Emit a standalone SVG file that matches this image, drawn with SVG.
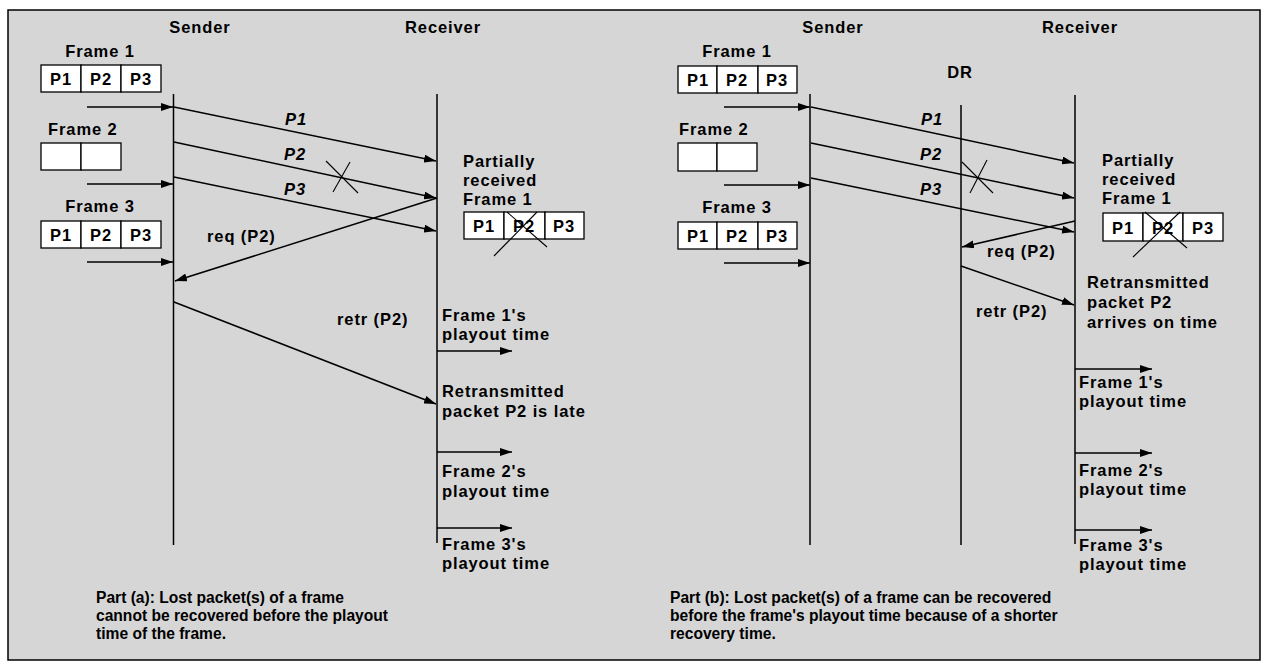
<svg xmlns="http://www.w3.org/2000/svg" width="1266" height="666" viewBox="0 0 1266 666">
<defs>
<marker id="ah" viewBox="0 0 12 8" refX="12" refY="4" markerWidth="12" markerHeight="8" markerUnits="userSpaceOnUse" orient="auto">
<path d="M0,0 L12,4 L0,8 Z" fill="#000"/>
</marker>
</defs>
<style>
text{font-family:"Liberation Sans",Arial,sans-serif;font-weight:bold;font-size:16.5px;letter-spacing:0.9px;fill:#000}
.cap{font-size:15.6px;letter-spacing:0}
.it{font-style:italic}
.c{text-anchor:middle}
.box{fill:#fff;stroke:#000;stroke-width:1.3}
.ln{stroke:#000;stroke-width:1.5;fill:none}
.ar{stroke:#000;stroke-width:1.5;fill:none;marker-end:url(#ah)}
.x{stroke:#000;stroke-width:1.1;fill:none}
</style>
<rect x="0" y="0" width="1266" height="666" fill="#fff"/>
<rect x="8" y="10" width="1252" height="650" fill="#d6d6d6" stroke="#000" stroke-width="1.5"/>

<!-- ===== Part (a) ===== -->
<g id="a-sender"><text x="200" y="33" class="c">Sender</text><line class="ln" x1="173.5" y1="94" x2="173.5" y2="545"/></g>
<g id="a-receiver"><text x="443" y="33" class="c">Receiver</text><line class="ln" x1="437" y1="94" x2="437" y2="543"/></g>
<g id="a-frame1"><text x="100" y="57" class="c">Frame 1</text>
<rect class="box" x="41" y="65" width="40" height="27"/><rect class="box" x="81" y="65" width="40" height="27"/><rect class="box" x="121" y="65" width="40" height="27"/>
<text x="61" y="85" class="c">P1</text><text x="101" y="85" class="c">P2</text><text x="141" y="85" class="c">P3</text></g>
<g id="a-frame2"><text x="48" y="135">Frame 2</text>
<rect class="box" x="41" y="143" width="40" height="27"/><rect class="box" x="81" y="143" width="40" height="27"/></g>
<g id="a-frame3"><text x="100" y="212" class="c">Frame 3</text>
<rect class="box" x="41" y="221" width="40" height="27"/><rect class="box" x="81" y="221" width="40" height="27"/><rect class="box" x="121" y="221" width="40" height="27"/>
<text x="61" y="241" class="c">P1</text><text x="101" y="241" class="c">P2</text><text x="141" y="241" class="c">P3</text></g>
<g id="a-partial"><text x="463" y="167">Partially</text><text x="463" y="186">received</text><text x="463" y="205">Frame 1</text>
<rect class="box" x="464" y="212" width="40" height="27"/><rect class="box" x="504" y="212" width="41" height="27"/><rect class="box" x="545" y="212" width="39" height="27"/>
<text x="484" y="232" class="c">P1</text><text x="524" y="232" class="c">P2</text><text x="564" y="232" class="c">P3</text>
<line class="x" x1="494" y1="256" x2="537" y2="212"/><line class="x" x1="507" y1="212" x2="547" y2="247"/></g>
<g id="a-labels">
<text x="285" y="125" class="it">P1</text><text x="284" y="160" class="it">P2</text><text x="284" y="195" class="it">P3</text>
<text x="207" y="242">req (P2)</text><text x="337" y="325">retr (P2)</text>
<text x="442" y="321">Frame 1's</text><text x="442" y="340">playout time</text>
<text x="442" y="397">Retransmitted</text><text x="442" y="417">packet P2 is late</text>
<text x="442" y="477">Frame 2's</text><text x="442" y="497">playout time</text>
<text x="442" y="550">Frame 3's</text><text x="442" y="569">playout time</text>
<text x="96" y="603" class="cap">Part (a): Lost packet(s) of a frame</text>
<text x="96" y="621" class="cap">cannot be recovered before the playout</text>
<text x="96" y="639" class="cap">time of the frame.</text></g>
<g id="a-connectors">
<line class="ar" x1="87" y1="107" x2="173" y2="107"/>
<line class="ar" x1="87" y1="184" x2="173" y2="184"/>
<line class="ar" x1="87" y1="262" x2="173" y2="262"/>
<line class="ar" x1="174" y1="107" x2="436" y2="161"/>
<line class="ar" x1="174" y1="142" x2="436" y2="198"/>
<line class="ar" x1="174" y1="177" x2="436" y2="231"/>
<line class="ar" x1="437" y1="198" x2="175" y2="281"/>
<line class="ar" x1="174" y1="302" x2="436" y2="404"/>
<line class="ar" x1="437" y1="351" x2="512" y2="351"/>
<line class="ar" x1="437" y1="452" x2="512" y2="452"/>
<line class="ar" x1="437" y1="528" x2="512" y2="528"/>
<line class="x" x1="333" y1="192" x2="350" y2="162"/><line class="x" x1="326" y1="161" x2="358" y2="193"/>
</g>

<!-- ===== Part (b) ===== -->
<g id="b-sender"><text x="833" y="33" class="c">Sender</text><line class="ln" x1="810" y1="94" x2="810" y2="545"/></g>
<g id="b-dr"><text x="960" y="78" class="c">DR</text><line class="ln" x1="961" y1="105" x2="961" y2="545"/></g>
<g id="b-receiver"><text x="1080" y="33" class="c">Receiver</text><line class="ln" x1="1075" y1="95" x2="1075" y2="544"/></g>
<g id="b-frame1"><text x="737" y="57" class="c">Frame 1</text>
<rect class="box" x="678" y="66" width="39" height="27"/><rect class="box" x="717" y="66" width="41" height="27"/><rect class="box" x="758" y="66" width="39" height="27"/>
<text x="698" y="86" class="c">P1</text><text x="737" y="86" class="c">P2</text><text x="777" y="86" class="c">P3</text></g>
<g id="b-frame2"><text x="679" y="135">Frame 2</text>
<rect class="box" x="678" y="143" width="39" height="28"/><rect class="box" x="717" y="143" width="40" height="28"/></g>
<g id="b-frame3"><text x="737" y="213" class="c">Frame 3</text>
<rect class="box" x="678" y="222" width="39" height="27"/><rect class="box" x="717" y="222" width="41" height="27"/><rect class="box" x="758" y="222" width="39" height="27"/>
<text x="698" y="242" class="c">P1</text><text x="737" y="242" class="c">P2</text><text x="777" y="242" class="c">P3</text></g>
<g id="b-partial"><text x="1102" y="166">Partially</text><text x="1102" y="185">received</text><text x="1102" y="204">Frame 1</text>
<rect class="box" x="1103" y="213" width="40" height="28"/><rect class="box" x="1143" y="213" width="40" height="28"/><rect class="box" x="1183" y="213" width="40" height="28"/>
<text x="1123" y="234" class="c">P1</text><text x="1163" y="234" class="c">P2</text><text x="1203" y="234" class="c">P3</text>
<line class="x" x1="1133" y1="257" x2="1180" y2="212"/><line class="x" x1="1145" y1="212" x2="1187" y2="248"/></g>
<g id="b-labels">
<text x="921" y="125" class="it">P1</text><text x="920" y="160" class="it">P2</text><text x="920" y="195" class="it">P3</text>
<text x="987" y="257">req (P2)</text><text x="976" y="317">retr (P2)</text>
<text x="1087" y="288">Retransmitted</text><text x="1087" y="308">packet P2</text><text x="1087" y="328">arrives on time</text>
<text x="1079" y="388">Frame 1's</text><text x="1079" y="407">playout time</text>
<text x="1079" y="476">Frame 2's</text><text x="1079" y="495">playout time</text>
<text x="1079" y="551">Frame 3's</text><text x="1079" y="570">playout time</text>
<text x="670" y="603" class="cap">Part (b): Lost packet(s) of a frame can be recovered</text>
<text x="670" y="621" class="cap">before the frame's playout time because of a shorter</text>
<text x="670" y="639" class="cap">recovery time.</text></g>
<g id="b-connectors">
<line class="ar" x1="724" y1="107" x2="810" y2="107"/>
<line class="ar" x1="724" y1="185" x2="810" y2="185"/>
<line class="ar" x1="724" y1="263" x2="810" y2="263"/>
<line class="ar" x1="811" y1="107" x2="1074" y2="163"/>
<line class="ar" x1="811" y1="143" x2="1074" y2="198"/>
<line class="ar" x1="811" y1="178" x2="1074" y2="232"/>
<line class="ar" x1="1075" y1="221" x2="962" y2="247"/>
<line class="ar" x1="961" y1="266" x2="1074" y2="305"/>
<line class="ar" x1="1075" y1="369" x2="1152" y2="369"/>
<line class="ar" x1="1075" y1="453" x2="1152" y2="453"/>
<line class="ar" x1="1075" y1="530" x2="1152" y2="530"/>
<line class="x" x1="970" y1="193" x2="987" y2="160"/><line class="x" x1="962" y1="162" x2="993" y2="193"/>
</g>
</svg>
